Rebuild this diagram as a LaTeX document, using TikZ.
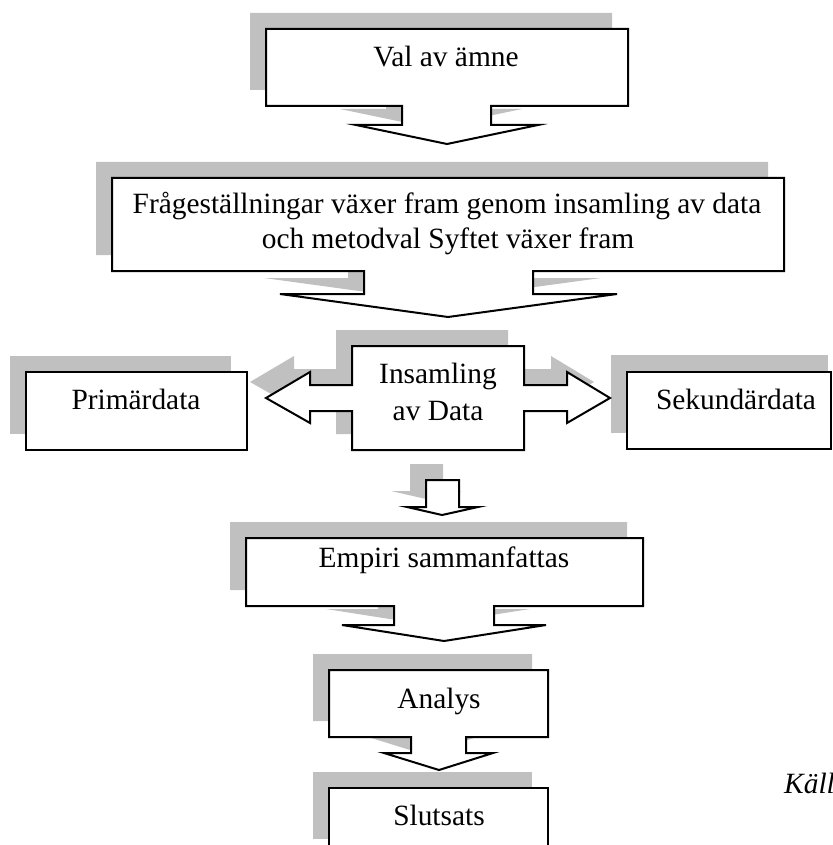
\documentclass[tikz,border=0pt]{standalone}
\usepackage{fontspec}
\setmainfont{Liberation Serif}
\definecolor{shadowgrey}{HTML}{C0C0C0}
\tikzset{
  shadowfill/.style={fill=shadowgrey, draw=none},
  boxline/.style={fill=white, draw=black, line width=2pt, line join=miter},
  lbl/.style={anchor=base, font=\fontsize{29.4}{35}\selectfont, inner sep=0pt},
}
\newcommand\shapeshadow[1]{\fill[shadowfill, shift={(-16,-16)}] #1;}
\newcommand\shapebody[1]{\filldraw[boxline] #1;}
\def\pathA{(266,29) -- (628,29) -- (628,106) -- (491,106) -- (491,125) -- (538,125) -- (447,144) -- (356,125) -- (402,125) -- (402,106) -- (266,106) -- cycle}
\def\pathB{(112,178) -- (784,178) -- (784,271) -- (533,271) -- (533,294) -- (617,294) -- (448,317) -- (280,294) -- (364,294) -- (364,271) -- (112,271) -- cycle}
\def\pathP{(26,372) rectangle (247,450)}
\def\pathI{(352,346) -- (524,346) -- (524,385) -- (567,385) -- (567,372) -- (610,398) -- (567,423) -- (567,411) -- (524,411) -- (524,450) -- (352,450) -- (352,411) -- (310,411) -- (310,423) -- (266,398) -- (310,372) -- (310,385) -- (352,385) -- cycle}
\def\pathS{(627,372) rectangle (831,449)}
\def\pathD{(426,480) -- (459,480) -- (459,507) -- (478,507) -- (442,515) -- (407,507) -- (426,507) -- cycle}
\def\pathE{(246,538) -- (643,538) -- (643,606) -- (494,606) -- (494,625) -- (546,625) -- (444,641) -- (342,625) -- (394,625) -- (394,606) -- (246,606) -- cycle}
\def\pathN{(329,670) -- (548,670) -- (548,737) -- (466,737) -- (466,753) -- (493,753) -- (439,770) -- (384,753) -- (411,753) -- (411,737) -- (329,737) -- cycle}
\def\pathT{(329,788) rectangle (548,855)}
\begin{document}
\begin{tikzpicture}[x=1pt,y=-1pt]
\useasboundingbox (0,0) rectangle (832,845);
\clip (0,0) rectangle (832,845);
% shadows
\shapeshadow{\pathA}
\shapeshadow{\pathB}
\shapeshadow{\pathP}
\shapeshadow{\pathI}
\fill[shadowfill] (611,355) rectangle (828,433);
\shapeshadow{\pathD}
\shapeshadow{\pathE}
\shapeshadow{\pathN}
\shapeshadow{\pathT}
% shapes
\shapebody{\pathA}
\shapebody{\pathB}
\shapebody{\pathP}
\shapebody{\pathI}
\shapebody{\pathS}
\shapebody{\pathD}
\shapebody{\pathE}
\shapebody{\pathN}
\shapebody{\pathT}
% texts
\node[lbl] (val) at (446,67) {Val av ämne};
\node[lbl] (fraga1) at (447,213) {Frågeställningar växer fram genom insamling av data};
\node[lbl] (fraga2) at (448,248) {och metodval Syftet växer fram};
\node[lbl] (prim) at (136,409) {Primärdata};
\node[lbl] (ins1) at (438,383) {Insamling};
\node[lbl] (ins2) at (438,420) {av Data};
\node[lbl] (sek) at (736,409) {Sekundärdata};
\node[lbl] (emp) at (444,567) {Empiri sammanfattas};
\node[lbl] (ana) at (439,708) {Analys};
\node[lbl] (slut) at (439,825) {Slutsats};
\node[lbl, anchor=base west, font=\fontsize{29.4}{35}\selectfont\itshape] (kalla) at (784,793) {Källa};
\end{tikzpicture}
\end{document}
